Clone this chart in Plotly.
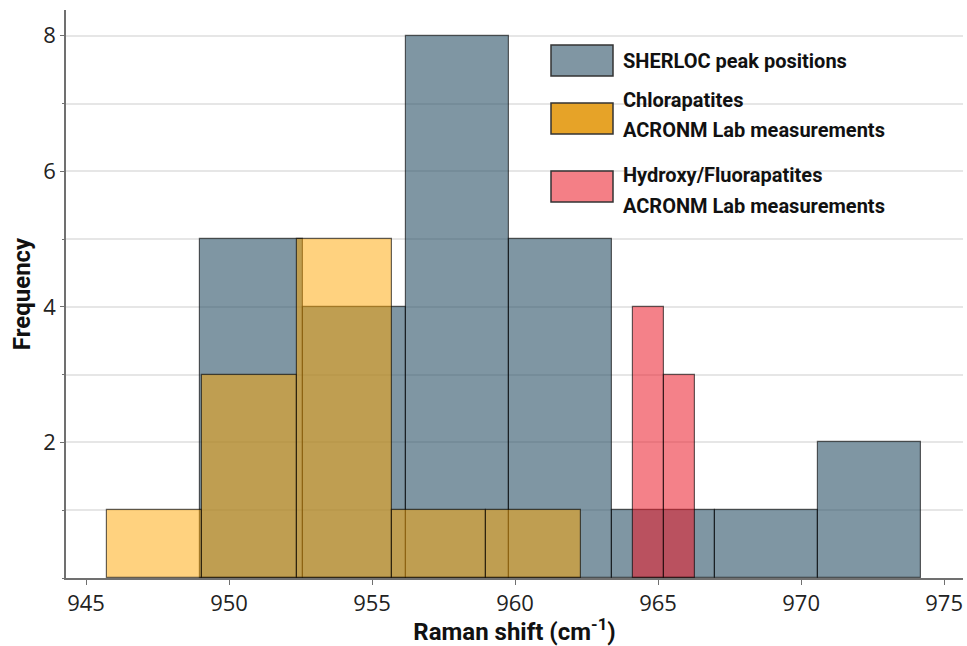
import plotly.graph_objects as go

# ---- data (bin edges in cm^-1 and counts per bin) ----
sherloc_edges = [949.0, 952.6, 956.2, 959.8, 963.4, 967.0, 970.6, 974.2]
sherloc_counts = [5, 4, 8, 5, 1, 1, 2]

chlor_edges = [945.75, 949.06, 952.37, 955.68, 958.99, 962.3]
chlor_counts = [1, 3, 5, 1, 1]

hf_edges = [964.12, 965.2, 966.3]
hf_counts = [4, 3]

series_names = ["SHERLOC peak positions",
                "Chlorapatites<br>ACRONM Lab measurements",
                "Hydroxy/Fluorapatites<br>ACRONM Lab measurements"]

x_ticks = [945, 950, 955, 960, 965, 970, 975]
y_ticks = [2, 4, 6, 8]

# ---- styling ----
W, H = 967, 646
ML, MR, MT, MB = 66, 4, 10, 68
PW, PH = W - ML - MR, H - MT - MB

fill_cols = ["rgba(42,80,102,0.6)", "rgba(255,165,0,0.5)", "rgba(235,25,40,0.55)"]
legend_cols = ["#8096A3", "#E6A328", "#F47F86"]
edge_col = "rgba(0,0,0,0.6)"
cond_font = "Roboto, Liberation Sans, sans-serif"


def centers(edges):
    return [(a + b) / 2 for a, b in zip(edges[:-1], edges[1:])]


def widths(edges):
    return [b - a for a, b in zip(edges[:-1], edges[1:])]


fig = go.Figure()
for edges, counts, col, name in [
    (sherloc_edges, sherloc_counts, fill_cols[0], series_names[0]),
    (chlor_edges, chlor_counts, fill_cols[1], series_names[1]),
    (hf_edges, hf_counts, fill_cols[2], series_names[2]),
]:
    fig.add_trace(go.Bar(
        x=centers(edges), y=counts, width=widths(edges),
        marker=dict(color=col, line=dict(color=edge_col, width=1.2)),
        name=name, showlegend=False,
    ))


def px2paper(px, py):
    return (px - ML) / PW, (MT + PH - py) / PH


# custom legend
patch_tops = [45, 103, 171]
text_lines = [["SHERLOC peak positions"],
              ["Chlorapatites", "ACRONM Lab measurements"],
              ["Hydroxy/Fluorapatites", "ACRONM Lab measurements"]]
text_y = [[61], [100, 130], [175, 206]]
shapes = []
annotations = []
for i in range(3):
    x0, y0 = px2paper(551, patch_tops[i])
    x1, y1 = px2paper(613, patch_tops[i] + 31)
    shapes.append(dict(type="rect", xref="paper", yref="paper",
                       x0=x0, x1=x1, y0=y1, y1=y0,
                       fillcolor=legend_cols[i],
                       line=dict(color="#333333", width=1.5)))
    for t, ty in zip(text_lines[i], text_y[i]):
        ax, ay = px2paper(621, ty)
        annotations.append(dict(xref="paper", yref="paper", x=ax, y=ay,
                                text=t, showarrow=False, xanchor="left",
                                yanchor="middle",
                                font=dict(family=cond_font, size=20,
                                          color="#111111", weight="bold")))

fig.update_layout(
    width=W, height=H,
    margin=dict(l=ML, r=MR, t=MT, b=MB, autoexpand=False),
    paper_bgcolor="white", plot_bgcolor="white",
    barmode="overlay", bargap=0,
    shapes=shapes, annotations=annotations,
    xaxis=dict(
        range=[944.3, 975.66], tickvals=x_ticks, automargin=False,
        showgrid=False, zeroline=False,
        showline=True, linecolor="#707070", linewidth=1.5,
        ticks="outside", ticklen=5, tickcolor="#707070",
        tickfont=dict(family="Open Sans", size=22, color="#222222"),
        title=dict(text="Raman shift (cm<sup>-1</sup>)",
                   font=dict(family=cond_font, size=24, color="#111111",
                             weight="bold"), standoff=4),
    ),
    yaxis=dict(
        range=[0, 8.38], tickvals=y_ticks, automargin=False,
        showgrid=True, gridcolor="#e6e6e6", gridwidth=1.5,
        zeroline=False,
        showline=True, linecolor="#707070", linewidth=1.5,
        ticks="outside", ticklen=4, tickcolor="#707070",
        minor=dict(dtick=1, tick0=0, ticks="outside", ticklen=2,
                   tickcolor="#707070", showgrid=True,
                   gridcolor="#e6e6e6", gridwidth=1.5),
        tickfont=dict(family="Open Sans", size=22, color="#222222"),
        title=dict(text="Frequency",
                   font=dict(family=cond_font, size=24, color="#111111",
                             weight="bold"), standoff=6),
    ),
)

fig.write_html("out.html",
               config={"displayModeBar": False},
               post_script="document.body.style.margin='0';"
                           "document.body.style.overflow='hidden';")
